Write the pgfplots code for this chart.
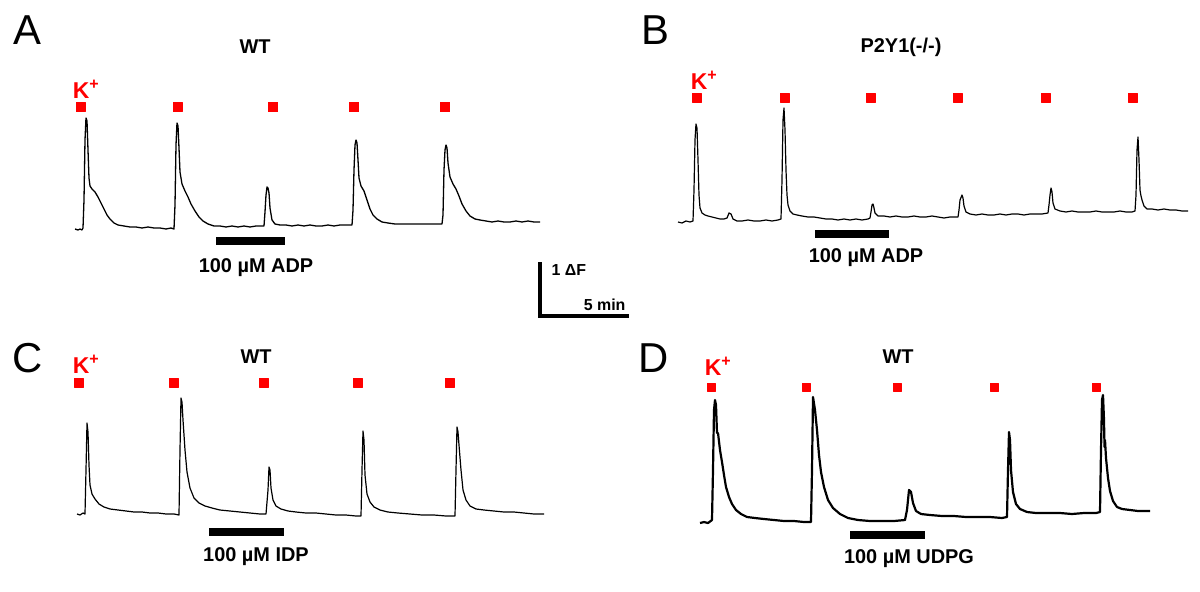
\documentclass[border=0pt]{standalone}
\usepackage{pgfplots}
\pgfplotsset{compat=1.18}
\usepackage{fontspec}
\setmainfont{Liberation Sans}
\newcommand\fs[1]{\fontsize{#1}{#1}\selectfont}
\begin{document}
\begin{tikzpicture}
\begin{axis}[
  width=1200bp, height=591bp, scale only axis,
  xmin=0, xmax=1200, ymin=0, ymax=591, y dir=reverse,
  hide axis, clip=false,
  every axis plot/.append style={line join=round},
]
\path (axis cs:0,0) rectangle (axis cs:1200,591);
% ---------------- Panel A ----------------
\addplot[black, line width=1.3bp] coordinates {
(75,229)(78,230)(80,229)(82,230)(83,228)(84,200)(85,140)(86,118)(87,121)(88,150)(89,178)(90,186)(92,189)(95,192)(98,197)(101,203)(104,209)(107,215)(110,219)(114,223)(118,225)(124,226)(130,227)(136,227)(142,228)(148,227)(154,228)(160,228)(166,229)(171,228)(174,229)(175,205)(176,145)(177,123)(178,126)(179,148)(180,172)(182,184)(185,191)(188,197)(191,204)(195,211)(199,217)(203,221)(208,224)(214,226)(220,226)(226,227)(232,226)(238,227)(244,226)(250,227)(256,226)(264,226)(265,212)(266,195)(267,187)(268,188)(269,193)(270,208)(272,220)(275,224)(280,225)(286,225)(292,226)(298,225)(304,226)(310,225)(316,226)(322,226)(328,225)(334,226)(340,225)(346,225)(352,225)(353,210)(354,170)(355,145)(356,140)(357,143)(358,160)(359,178)(361,186)(364,191)(367,200)(370,209)(373,215)(377,219)(382,222)(388,223)(395,224)(402,224)(410,224)(418,224)(426,224)(434,224)(442,224)(443,215)(444,170)(445,150)(446,145)(447,148)(448,163)(450,177)(453,184)(456,189)(459,196)(462,204)(466,211)(470,216)(475,219)(480,220)(486,221)(492,222)(498,221)(504,222)(510,222)(516,221)(522,222)(528,221)(534,222)(540,222)};
\addplot[only marks, mark=square*, mark size=4.6bp, red, mark options={draw=red, fill=red}] coordinates {(80.5,107)(177.5,107)(273,107)(354,107)(445,107)};
\addplot[black, line width=8bp] coordinates {(216,241)(285,241)};
\node[font=\fs{42}] at (axis cs:27,30) {A};
\node[font=\fs{20}\bfseries] at (axis cs:255,47) {WT};
\node[font=\fs{23}\bfseries, text=red] at (axis cs:86,89) {K\textsuperscript{+}};
\node[font=\fs{20}\bfseries] at (axis cs:256,268) {100 µM ADP};
% ---------------- Panel B ----------------
\addplot[black, line width=1.2bp] coordinates {
(678,222)(682,223)(686,221)(690,222)(693,221)(694,190)(695,140)(696,124)(697,128)(698,160)(699,195)(700,208)(702,213)(705,215)(708,216)(712,217)(716,218)(720,219)(724,219)(727,218)(729,213)(731,214)(733,219)(737,221)(742,221)(748,220)(754,221)(760,221)(766,220)(772,221)(778,220)(781,219)(782,180)(783,120)(784,108)(785,130)(786,170)(787,195)(788,205)(790,211)(793,214)(797,215)(802,216)(808,217)(814,217)(820,218)(826,219)(832,219)(838,220)(844,219)(850,220)(856,219)(862,220)(868,219)(870,218)(871,212)(872,205)(873,204)(874,208)(875,213)(878,216)(884,216)(890,217)(896,216)(902,217)(908,217)(914,216)(920,217)(926,217)(932,216)(938,217)(944,218)(950,217)(958,217)(959,210)(960,200)(962,195)(963,198)(964,206)(966,212)(970,214)(976,215)(982,214)(988,215)(994,215)(1000,214)(1006,215)(1012,214)(1018,214)(1024,215)(1030,214)(1036,214)(1042,214)(1048,213)(1049,205)(1050,195)(1051,188)(1052,192)(1053,203)(1055,209)(1060,211)(1066,212)(1072,211)(1078,212)(1084,212)(1090,212)(1096,211)(1102,212)(1108,212)(1114,212)(1120,211)(1126,212)(1132,212)(1135,211)(1136,195)(1137,150)(1138,137)(1139,160)(1140,190)(1141,196)(1142,200)(1144,206)(1147,209)(1152,209)(1158,210)(1164,209)(1170,210)(1176,210)(1182,211)(1188,211)};
\addplot[only marks, mark=square*, mark size=4.4bp, red, mark options={draw=red, fill=red}] coordinates {(696.5,98)(784.5,98)(871,98)(958,98)(1045.5,98)(1133,98)};
\addplot[black, line width=8bp] coordinates {(815,234)(889,234)};
\node[font=\fs{42}] at (axis cs:655,30) {B};
\node[font=\fs{20}\bfseries] at (axis cs:901,47) {P2Y1(-/-)};
\node[font=\fs{23}\bfseries, text=red] at (axis cs:704,80) {K\textsuperscript{+}};
\node[font=\fs{20}\bfseries] at (axis cs:866,258) {100 µM ADP};
% ---------------- Scale bar ----------------
\addplot[black, line width=4bp, line join=miter] coordinates {(540,262)(540,316)(629,316)};
\node[font=\fs{16}\bfseries, anchor=west] at (axis cs:548,270) {1 ΔF};
\node[font=\fs{16}\bfseries, anchor=east] at (axis cs:629,305) {5 min};
% ---------------- Panel C ----------------
\addplot[black, line width=1.2bp] coordinates {
(77,514)(80,515)(83,513)(85,514)(86,470)(87,423)(88,432)(89,465)(90,485)(92,494)(95,499)(99,504)(104,507)(110,509)(118,510)(126,511)(134,512)(142,512)(150,513)(158,513)(166,514)(174,514)(179,515)(180,450)(181,398)(182,402)(183,420)(185,450)(187,472)(190,488)(194,498)(199,503)(205,506)(212,508)(220,510)(230,511)(240,512)(250,513)(260,514)(266,514)(268,490)(269,467)(270,470)(271,488)(273,500)(276,506)(281,509)(288,511)(296,512)(306,513)(316,513)(326,514)(336,515)(346,515)(356,516)(361,516)(362,470)(363,431)(364,440)(365,475)(367,494)(370,502)(374,507)(380,510)(388,512)(398,513)(410,514)(422,515)(434,515)(446,516)(455,516)(456,470)(457,427)(458,432)(459,445)(461,470)(463,490)(466,500)(470,506)(476,509)(484,510)(494,511)(504,512)(514,512)(524,513)(534,514)(544,514)};
\addplot[only marks, mark=square*, mark size=4.4bp, red, mark options={draw=red, fill=red}] coordinates {(78.5,383)(173.5,383)(264,383)(357.5,383)(450,383)};
\addplot[black, line width=8bp] coordinates {(209,532)(284,532)};
\node[font=\fs{42}] at (axis cs:28,358) {C};
\node[font=\fs{20}\bfseries] at (axis cs:256,357) {WT};
\node[font=\fs{23}\bfseries, text=red] at (axis cs:86,364) {K\textsuperscript{+}};
\node[font=\fs{20}\bfseries] at (axis cs:256,557) {100 µM IDP};
% ---------------- Panel D ----------------
\addplot[black, line width=2.2bp] coordinates {
(700,523)(704,522)(708,523)(712,520)(713,470)(714,410)(715,400)(716,405)(717,433)(718,433)(720,450)(722,462)(724,475)(726,487)(729,497)(732,504)(736,510)(741,514)(747,517)(755,518)(764,519)(774,520)(784,521)(794,521)(804,522)(811,522)(812,470)(813,397)(815,410)(817,430)(819,455)(821,472)(824,487)(828,500)(833,508)(840,514)(848,518)(858,520)(870,521)(882,521)(894,521)(905,520)(907,510)(909,490)(911,492)(913,503)(916,511)(921,514)(930,515)(942,516)(954,516)(966,517)(978,517)(990,517)(1002,518)(1007,517)(1008,470)(1009,432)(1010,440)(1011,470)(1013,492)(1016,504)(1020,509)(1027,512)(1036,513)(1048,513)(1060,513)(1072,514)(1084,513)(1096,513)(1100,512)(1101,450)(1102,400)(1103,395)(1104,420)(1104.5,447)(1105,440)(1106,458)(1108,478)(1110,491)(1113,501)(1117,507)(1122,509)(1130,510)(1138,511)(1144,511)(1150,511)};
\addplot[only marks, mark=square*, mark size=3.8bp, red, mark options={draw=red, fill=red}] coordinates {(711,387)(806,387)(897,387)(994,387)(1096,387)};
\addplot[black, line width=8bp] coordinates {(850,535)(925,535)};
\node[font=\fs{42}] at (axis cs:654,358) {D};
\node[font=\fs{20}\bfseries] at (axis cs:898,357) {WT};
\node[font=\fs{23}\bfseries, text=red] at (axis cs:718,366) {K\textsuperscript{+}};
\node[font=\fs{20}\bfseries] at (axis cs:909,559) {100 µM UDPG};
\end{axis}
\end{tikzpicture}
\end{document}
